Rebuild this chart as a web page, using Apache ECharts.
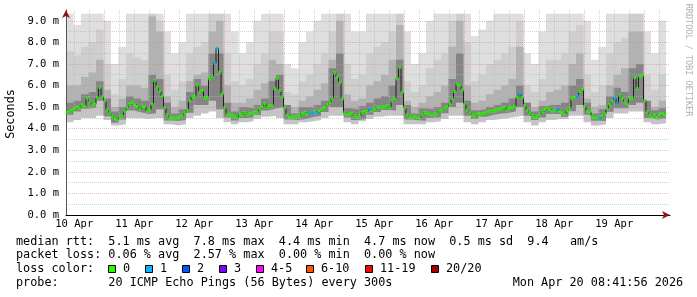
<!DOCTYPE html>
<html><head><meta charset="utf-8">
<script src="https://cdn.jsdelivr.net/npm/echarts@6/dist/echarts.min.js"></script>
<style>html,body{margin:0;padding:0;background:#fff}#c{width:697px;height:297px}</style>
</head><body><div id="c"></div>
<script>
// ---- data (hours are counted from 10 Apr 00:00) ----
const startHour = 8 + 41/60 + 56/3600;       // graph starts 10 Apr 08:41:56
const spanHours = 241.6;                      // visible x range (10 days + arrow room)
const dayLabels = ['10 Apr','11 Apr','12 Apr','13 Apr','14 Apr','15 Apr','16 Apr','17 Apr','18 Apr','19 Apr'];
const dayLabelHours = [12,36,60,84,108,132,156,180,204,228];

// median rtt, ms, one value per hour
const medianRtt = [
4.76,4.79,4.85,4.92,5.01,4.95,5.09,5.04,5.41,5.24,
5.09,5.13,5.43,5.92,5.48,5.29,4.87,4.72,4.59,4.47,
4.41,4.55,4.58,4.81,4.97,5.12,5.21,5.12,5.03,4.89,
5.04,5.03,4.81,4.84,5.13,6.23,5.92,5.74,5.51,4.97,
4.65,4.50,4.49,4.49,4.50,4.53,4.58,4.73,4.86,5.30,
5.51,5.48,6.02,5.69,5.77,5.43,5.46,6.31,6.39,7.04,
7.72,6.62,5.61,4.97,4.65,4.65,4.62,4.56,4.50,4.67,
4.63,4.75,4.65,4.70,4.73,4.76,4.76,4.92,5.01,5.15,
4.97,5.06,5.06,5.85,6.33,5.77,5.48,4.97,4.64,4.55,
4.53,4.54,4.55,4.58,4.70,4.76,4.67,4.72,4.75,4.80,
4.72,4.81,4.90,4.98,5.10,5.21,5.38,6.59,6.40,6.12,
5.38,4.73,4.65,4.68,4.72,4.60,4.53,4.58,4.75,4.81,
4.78,4.89,4.83,4.90,5.00,5.00,5.00,5.01,5.07,4.97,
5.29,5.38,6.31,6.85,5.69,4.97,4.65,4.55,4.53,4.55,
4.52,4.49,4.65,4.76,4.72,4.68,4.64,4.66,4.68,4.81,
4.85,4.95,5.00,5.15,5.38,5.72,6.08,6.02,5.79,5.15,
4.86,4.73,4.62,4.58,4.68,4.68,4.70,4.72,4.76,4.79,
4.81,4.83,4.86,4.89,4.95,5.00,4.86,4.94,4.98,5.01,
5.46,5.61,5.45,5.07,4.86,4.73,4.61,4.53,4.56,4.65,
4.79,4.88,4.97,4.90,4.81,4.84,4.90,4.81,4.75,4.68,
4.84,4.94,5.38,5.45,5.51,5.72,5.82,5.04,4.81,4.78,
4.58,4.52,4.50,4.49,4.58,4.68,4.92,5.12,5.27,5.41,
5.17,5.55,5.40,5.23,5.15,5.41,5.41,6.36,5.85,6.43,
6.46,5.30,4.78,4.63,4.55,4.63,4.55,4.62,4.70,4.65];
// hours (sample index) where 1 of 20 pings was lost
const lossOneIdx = [59,60,97,98,100,121,181,196,204,213,219,220];

// smoke, ms, one value per 3 hours
const smokeMax = [
9.33,8.8,9.33,9.33,9.33,9.0,7.0,7.8,9.33,9.33,
9.33,9.33,9.33,8.5,7.5,8.0,9.33,9.33,9.33,9.33,
9.33,9.33,8.5,7.5,8.0,9.0,9.33,9.33,9.33,7.0,
6.8,8.0,8.5,9.0,9.33,9.33,9.33,9.33,8.5,8.5,
9.33,9.33,9.33,9.33,9.33,8.5,7.0,7.5,9.0,9.33,
9.33,9.33,9.33,9.33,8.3,8.6,9.0,9.33,9.33,9.33,
9.33,7.5,7.0,8.5,9.33,9.33,9.33,9.33,9.33,9.0,
7.2,7.8,9.33,9.33,9.33,9.33,9.33,8.5,7.5,9.0];
const smokeUpper2 = [
7.6,7.4,7.8,8.0,8.6,7.0,5.6,6.3,7.5,7.3,
7.2,9.33,9.0,6.5,5.8,6.2,7.5,7.8,8.0,9.33,
9.33,7.5,6.2,6.0,6.3,7.0,7.5,8.5,8.5,5.7,
5.6,6.2,6.5,7.0,7.5,8.5,9.33,7.0,6.3,6.5,
7.5,7.8,8.0,8.5,9.33,6.2,5.7,6.0,6.8,7.2,
7.5,9.0,9.33,8.0,6.2,6.5,7.0,7.2,7.5,7.8,
9.0,6.0,5.7,6.3,7.2,7.2,7.5,8.5,8.8,6.5,
5.7,6.0,7.5,8.0,8.2,9.33,9.33,6.5,5.8,6.5];
const smokeUpper3 = [
6.0,6.0,6.4,6.6,7.2,5.8,5.0,5.4,6.0,6.0,
5.9,9.2,8.5,5.5,5.0,5.3,6.2,6.5,6.6,8.5,
9.0,6.0,5.2,5.2,5.4,5.8,6.1,7.2,7.0,5.0,
5.0,5.3,5.5,5.8,6.1,7.2,9.0,5.6,5.3,5.4,
6.0,6.2,6.5,7.2,8.8,5.3,5.0,5.2,5.5,5.7,
6.0,7.8,9.0,6.0,5.2,5.3,5.6,5.8,6.0,6.3,
7.8,5.2,5.0,5.3,5.7,5.8,6.0,7.0,7.5,5.4,
5.0,5.1,6.0,6.5,6.8,8.5,8.5,5.3,5.0,5.3];
const smokeCore = [
5.2,5.3,5.6,5.7,6.2,5.4,4.8,5.0,5.5,5.4,
5.3,6.5,6.3,5.2,4.7,4.9,5.7,6.3,6.0,7.5,
7.5,5.2,4.8,5.0,4.95,5.1,5.4,6.2,6.5,5.1,
4.7,5.0,5.0,5.1,5.3,6.8,7.5,4.95,4.9,5.05,
5.2,5.4,5.5,6.0,7.2,5.1,4.7,4.95,4.9,5.0,
5.2,6.3,7.5,5.3,4.85,4.9,5.0,5.1,5.2,5.4,
6.0,5.2,4.8,5.05,5.1,5.1,5.2,6.0,6.3,5.2,
4.7,4.9,5.5,5.9,5.7,6.8,7.0,5.3,4.85,4.95];
const smokeCoreLow = [
4.64,4.8,4.92,4.97,5.3,4.58,4.28,4.42,4.84,4.76,
4.68,4.72,4.9,4.38,4.36,4.4,4.74,5.1,5.1,5.3,
4.9,4.52,4.38,4.5,4.52,4.63,4.84,4.93,5.0,4.42,
4.4,4.45,4.54,4.6,4.77,5.0,5.0,4.52,4.4,4.45,
4.65,4.77,4.87,4.84,5.1,4.42,4.39,4.37,4.51,4.53,
4.72,5.0,5.2,4.6,4.45,4.55,4.63,4.7,4.73,4.81,
5.0,4.6,4.4,4.52,4.68,4.68,4.55,4.81,5.1,4.65,
4.37,4.36,4.79,4.95,4.95,5.1,5.2,4.5,4.42,4.5];
const smokeLow = [
4.3,4.4,4.5,4.5,4.6,4.4,4.15,4.2,4.5,4.5,
4.45,4.5,4.5,4.2,4.15,4.2,4.5,4.6,4.7,4.8,
4.5,4.3,4.2,4.3,4.35,4.45,4.55,4.6,4.5,4.2,
4.2,4.3,4.35,4.4,4.5,4.6,4.6,4.3,4.2,4.35,
4.45,4.55,4.6,4.6,4.6,4.2,4.2,4.2,4.3,4.35,
4.45,4.6,4.6,4.3,4.2,4.3,4.4,4.45,4.5,4.55,
4.6,4.3,4.15,4.3,4.4,4.45,4.45,4.6,4.6,4.3,
4.15,4.2,4.5,4.7,4.7,4.8,4.8,4.3,4.2,4.25];
const smokeStepHours = 3;

const lossLabels = ['0','1','2','3','4-5','6-10','11-19','20/20'];
const lossColors = ['#26ff00','#00b8ff','#0059ff','#7e00ff','#ff00ff','#ff5500','#ff0000','#a10000'];
const statLines = [
  'median rtt:  5.1 ms avg  7.8 ms max  4.4 ms min  4.7 ms now  0.5 ms sd  9.4   am/s',
  'packet loss: 0.06 % avg  2.57 % max  0.00 % min  0.00 % now',
  'loss color:',
  'probe:       20 ICMP Echo Pings (56 Bytes) every 300s'];
const stampText = 'Mon Apr 20 08:41:56 2026';

// ---- build ----
const chart = echarts.init(document.getElementById('c'), null, {renderer:'canvas'});
const xMin = startHour, xMax = startHour + spanHours;
const majorGrid = 'rgba(225,130,130,0.55)';
const minorGrid = 'rgba(180,180,180,0.6)';

function stepData(arr, stepH){
  const d = arr.map((v,k)=>[startHour + stepH*k, v]);
  d.push([startHour + stepH*arr.length, arr[arr.length-1]]);
  return d;
}
function areaSeries(arr, color, z){
  return {type:'line', data: stepData(arr, smokeStepHours), step:'end', symbol:'none',
    lineStyle:{width:0, opacity:0}, areaStyle:{color:color, opacity:1}, z:z, silent:true, animation:false};
}
const vLines = [];
for (let h = 12; h < xMax; h += 6) {
  if (h <= xMin) continue;
  const major = h % 24 === 0;
  vLines.push({xAxis:h, lineStyle:{color: major ? majorGrid : minorGrid, type:[1,1], width:1}});
}
const ok = [], lost1 = [];
medianRtt.forEach((v,j)=>{ (lossOneIdx.includes(j) ? lost1 : ok).push([startHour + j + 0.5, v]); });

const mono = '"DejaVu Sans Mono", monospace';
const graphic = [];
const rowY = [241.5, 255.3, 269.2, 283.2];
statLines.forEach((t,i)=>graphic.push({type:'text', x:16, y:rowY[i], silent:true,
  style:{text:t, font:'11.8px '+mono, fill:'#000', align:'left', verticalAlign:'middle'}}));
graphic.push({type:'text', x:512.7, y:rowY[3], silent:true,
  style:{text:stampText, font:'11.8px '+mono, fill:'#000', align:'left', verticalAlign:'middle'}});
const boxX = [108.5,145.5,182.5,219.5,256.5,306.5,365.5,431.5];
lossLabels.forEach((l,i)=>{
  graphic.push({type:'rect', silent:true, shape:{x:boxX[i], y:265.5, width:7, height:7},
    style:{fill:lossColors[i], stroke:'#000', lineWidth:1}});
  graphic.push({type:'text', silent:true, x:boxX[i]+14.5, y:rowY[2],
    style:{text:l, font:'11.8px '+mono, fill:'#000', align:'left', verticalAlign:'middle'}});
});
graphic.push({type:'text', silent:true, x:11, y:114, rotation:Math.PI/2,
  style:{text:'Seconds', font:'11.8px '+mono, fill:'#000', align:'center', verticalAlign:'middle'}});
graphic.push({type:'text', silent:true, x:688.5, y:60, rotation:-Math.PI/2,
  style:{text:'RRDTOOL / TOBI OETIKER', font:'8.5px '+mono, fill:'#b0b0b0', align:'center', verticalAlign:'middle'}});

const yBase = {type:'value', min:0, max:9.5, interval:1, position:'left'};
chart.setOption({
  animation:false,
  backgroundColor:'#ffffff',
  grid:{left:66, right:27, top:10, bottom:82, containLabel:false},
  xAxis:[
    {type:'value', min:xMin, max:xMax, z:10,
     axisLine:{show:true, onZero:false, lineStyle:{color:'#000', width:1}},
     axisTick:{show:false}, splitLine:{show:false},
     axisLabel:{customValues:dayLabelHours, formatter:v=>dayLabels[dayLabelHours.indexOf(Math.round(v))] || '',
       fontFamily:mono, fontSize:10.5, color:'#000', margin:4}},
    {type:'value', min:xMin, max:xMax, position:'bottom', z:11,
     axisLine:{show:true, onZero:false, symbol:['none','arrow'], symbolSize:[6,8], lineStyle:{color:'#8b1515', width:0}},
     axisTick:{show:false}, axisLabel:{show:false}, splitLine:{show:false}}
  ],
  yAxis:[
    Object.assign({}, yBase, {z:10,
      axisLine:{show:true, onZero:false, lineStyle:{color:'#555', width:1}},
      axisTick:{show:false},
      axisLabel:{formatter:v=>v.toFixed(1)+' m', fontFamily:mono, fontSize:10.5, color:'#000', margin:7, showMaxLabel:false},
      splitLine:{show:true, showMinLine:false, showMaxLine:false, lineStyle:{color:majorGrid, type:[1,1], width:1}},
      minorTick:{show:false, splitNumber:2},
      minorSplitLine:{show:true, lineStyle:{color:minorGrid, type:[1,1], width:1}}}),
    Object.assign({}, yBase, {z:11,
      axisLine:{show:true, onZero:false, symbol:['none','arrow'], symbolSize:[6,8], lineStyle:{color:'#8b1515', width:0}},
      axisTick:{show:false}, axisLabel:{show:false}, splitLine:{show:false}})
  ],
  graphic: graphic,
  series:[
    areaSeries(smokeMax, '#dedede', 1),
    areaSeries(smokeUpper2, '#cecece', 2),
    areaSeries(smokeUpper3, '#b2b2b2', 3),
    areaSeries(smokeCore, '#858585', 4),
    areaSeries(smokeCoreLow, '#c4c4c4', 5),
    areaSeries(smokeLow, '#ffffff', 6),
    {type:'line', data:[[xMin,0]], symbol:'none', lineStyle:{opacity:0}, z:7, silent:true,
     markLine:{silent:true, symbol:'none', label:{show:false}, animation:false, data:vLines}},
    {type:'line', data:stepData(medianRtt, 1), step:'end', symbol:'none', z:12, silent:true,
     lineStyle:{color:'#202020', width:1}},
    {type:'scatter', data:ok, symbol:'rect', symbolSize:[3,3], itemStyle:{color:lossColors[0]}, z:13, silent:true},
    {type:'scatter', data:lost1, symbol:'rect', symbolSize:[3,3], itemStyle:{color:lossColors[1]}, z:14, silent:true}
  ]
});
</script></body></html>
